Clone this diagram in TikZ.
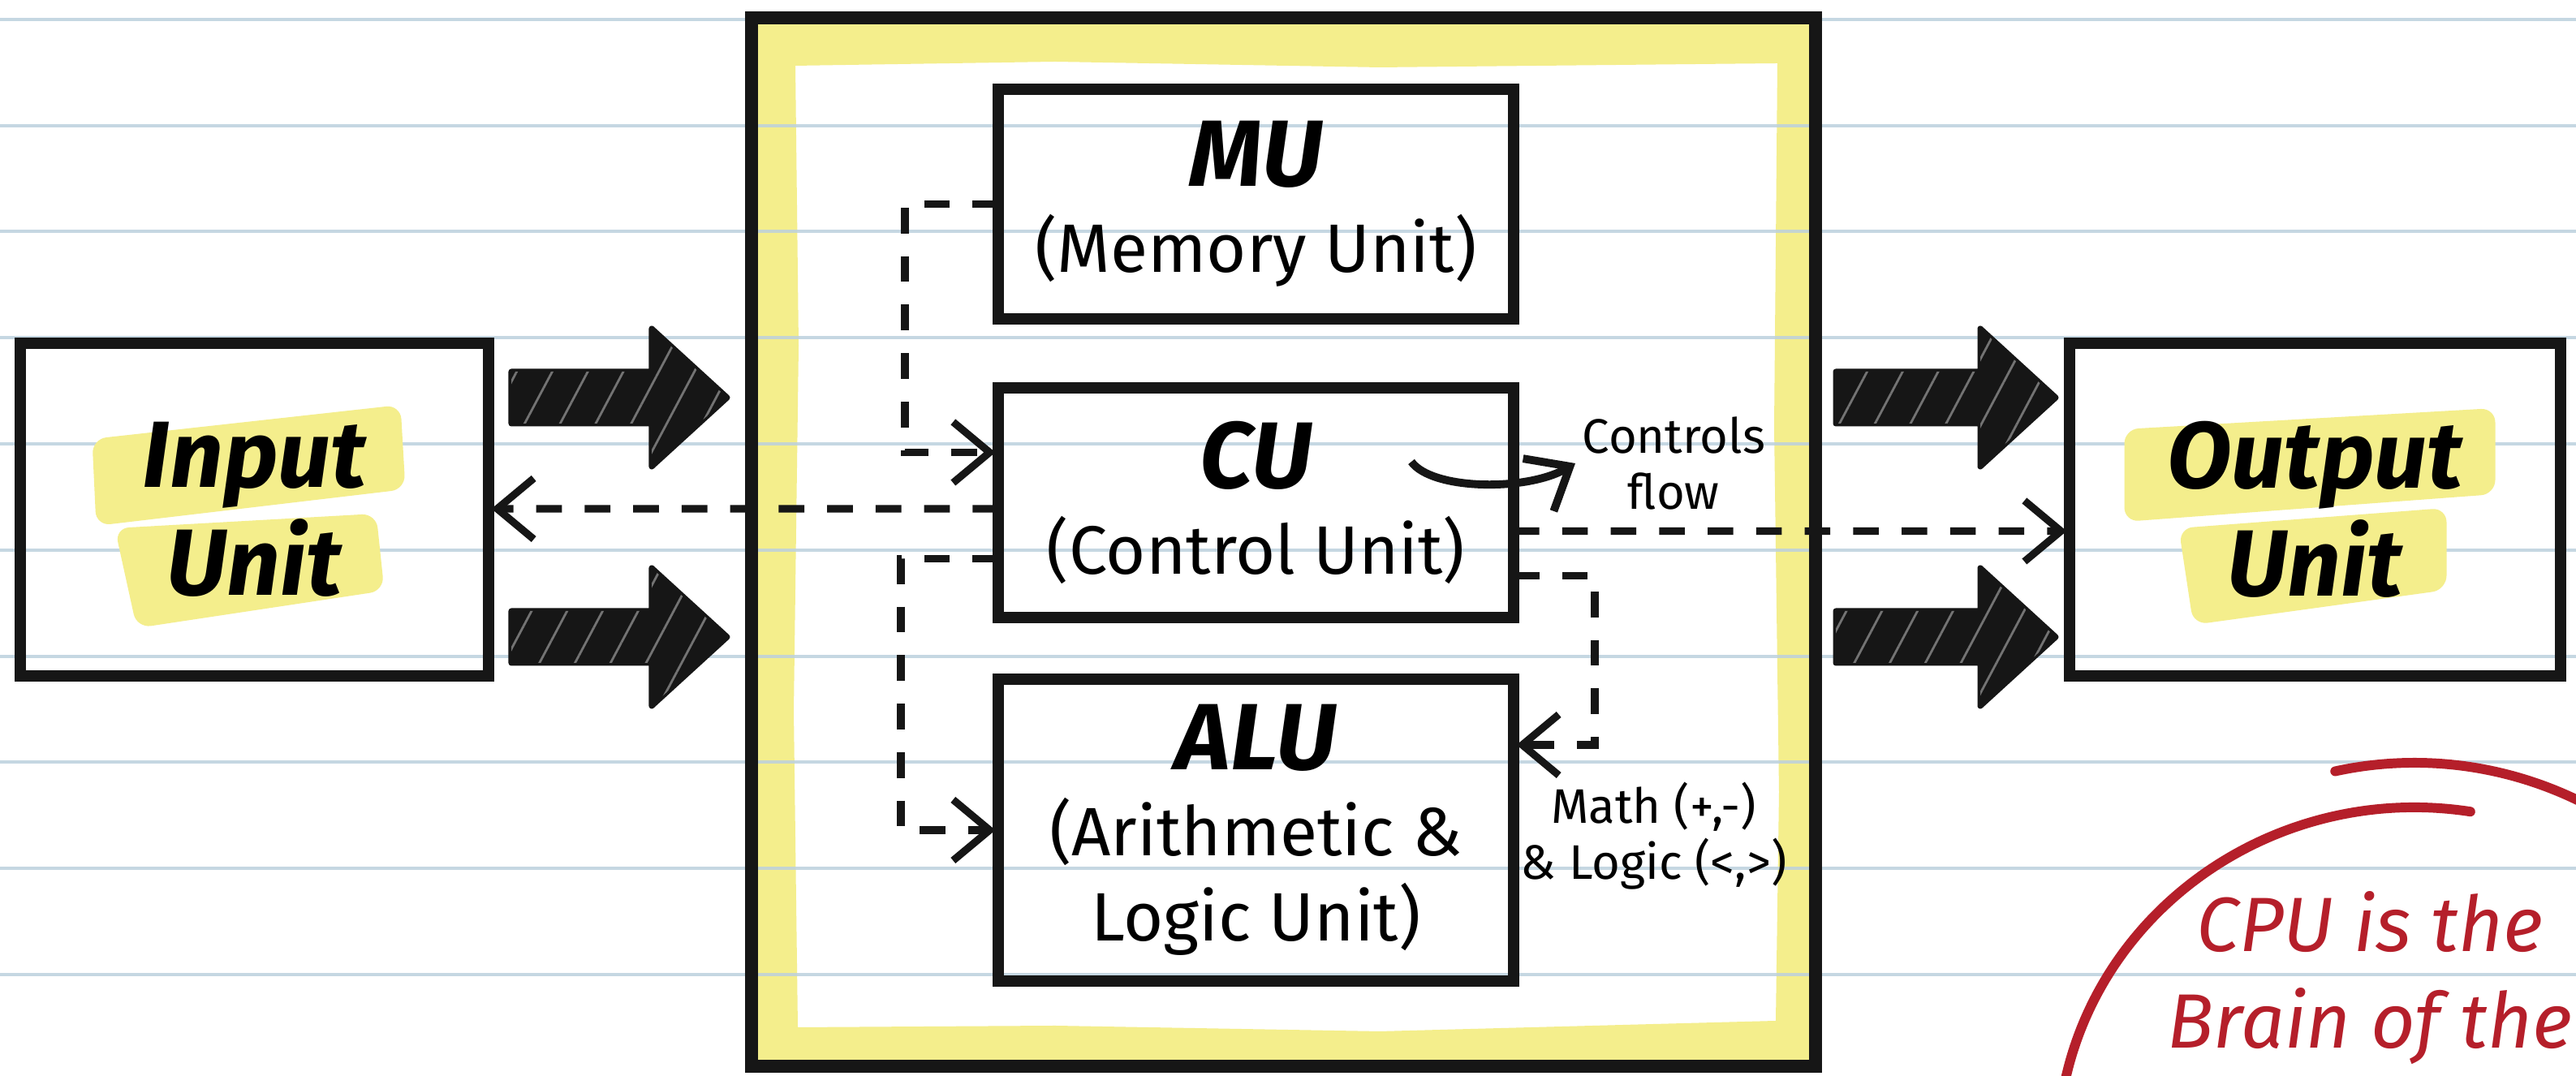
\documentclass[tikz,border=0pt]{standalone}
\usepackage{fontspec}
\setmainfont{Fira Sans}
\usepackage{tikz}
\usetikzlibrary{arrows.meta,calc,positioning,backgrounds,patterns.meta}
\definecolor{ink}{HTML}{161616}
\definecolor{paperline}{HTML}{BCD0DE}
\definecolor{markyellow}{HTML}{F4EE8C}
\definecolor{redink}{HTML}{B51F2A}
\newcommand{\unittitle}{\fontsize{33}{30}\selectfont\bfseries\itshape}
\newcommand{\fatarrow}[2]{%
  \fill[fatbody] ($(#1)+(0,0.32)$) -- ($(#2)+(-0.93,0.32)$) -- ($(#2)+(-0.93,0.85)$) -- (#2)
    -- ($(#2)+(-0.93,-0.85)$) -- ($(#2)+(-0.93,-0.32)$) -- ($(#1)+(0,-0.32)$) -- cycle;}

\begin{document}
\begin{tikzpicture}[>={Straight Barb[length=4.5mm,width=7.5mm]},node distance=8.5mm,
  sidebox/.style={draw=ink,line width=4pt,outer sep=0pt,minimum height=4.1cm,align=center,font=\fontsize{33}{38}\selectfont\bfseries\itshape},
  unitbox/.style={draw=ink,line width=4pt,outer sep=0pt,minimum width=6.35cm,minimum height=2.83cm,align=center,font=\fontsize{24}{30}\selectfont},
  cpubox/.style={draw=ink,line width=4.5pt,outer sep=0pt,minimum width=13.11cm,minimum height=12.92cm},
  dashflow/.style={->,draw=ink,line width=2.6pt,dash pattern=on 9pt off 8pt,shorten >=1pt},
  note/.style={inner sep=0pt,align=center,font=\fontsize{17}{19.5}\selectfont},
  hilite/.style={fill=markyellow,rounded corners=5pt},
  paper/.style={draw=paperline,line width=1.1pt,draw opacity=0.85},
  fatbody/.style={fill=ink,draw=ink,line width=2pt,line join=round,
    postaction={pattern={Lines[angle=62,distance=11pt,line width=0.8pt]},pattern color=black!55}},
  redring/.style={draw=redink,line width=3.4pt,line cap=round},
  redtext/.style={text=redink,align=center,inner sep=0pt,font=\fontsize{27}{34}\selectfont\itshape}]

  \useasboundingbox (0,0) rectangle (31.74,13.26);
  \clip (0,0) rectangle (31.74,13.26);

  \node[cpubox] (cpu) at (15.815,6.58) {};
  \node[unitbox] (mu) at (15.475,10.745) {{\unittitle MU}\\(Memory Unit)};
  \node[unitbox,below=of mu] (cu) {{\unittitle CU}\\(Control Unit)};
  \node[unitbox,minimum height=3.72cm,below=7.6mm of cu] (alu) {{\unittitle ALU}\\(Arithmetic \&\\Logic Unit)};
  \node[sidebox,minimum width=5.77cm] (inp) at (3.135,6.98) {Input\\Unit};
  \node[sidebox,minimum width=6.05cm] (outp) at (28.525,6.98) {Output\\Unit};

  \coordinate (inA) at ([shift={(0.28,1.38)}]inp.east);
  \coordinate (inB) at ([shift={(0.28,-1.57)}]inp.east);
  \coordinate (cpuA) at ($(cpu.west |- inA)+(-0.30,0)$);
  \coordinate (cpuB) at ($(cpu.west |- inB)+(-0.30,0)$);
  \coordinate (outA) at ($(cpu.east |- inA)+(0.25,0)$);
  \coordinate (outB) at ($(cpu.east |- inB)+(0.25,0)$);
  \coordinate (endA) at ($(outp.west |- inA)+(-0.17,0)$);
  \coordinate (endB) at ($(outp.west |- inB)+(-0.17,0)$);
  \fatarrow{inA}{cpuA}
  \fatarrow{inB}{cpuB}
  \fatarrow{outA}{endA}
  \fatarrow{outB}{endB}

  \draw[dashflow] (mu.west) -- ++(-1.15,0) |- ([yshift=6.2mm]cu.west);
  \draw[dashflow] ([yshift=-0.75mm]cu.west) -- ($(cu.west -| inp.east)+(0,-0.075)$);
  \draw[dashflow] ([yshift=-6.9mm]cu.west) -- ++(-1.2,0) |- (alu.west);
  \draw[dashflow] ([yshift=-3.5mm]cu.east) -- ($(cu.east -| outp.west)+(0,-0.35)$);
  \draw[dashflow] ([yshift=-9mm]cu.east) -- ++(1.0,0) |- ([yshift=10.5mm]alu.east);

  \coordinate (flowstart) at ([shift={(1.915,0.505)}]cu.center);
  \coordinate (flowtip) at ([shift={(3.935,0.485)}]cu.center);
  \draw[->,draw=ink,line width=2.8pt] (flowstart) .. controls +(0.25,-0.35) and +(-0.6,-0.35) .. (flowtip);
  \node[note,right=0.8mm of flowtip] (ctrl) {Controls\\flow};
  \node[note,right=0.8mm of alu.east,yshift=-0.7mm] (ops) {Math (+,-)\\\& Logic (<,>)};

  \node[redtext] (brain) at (29.20,1.21) {CPU is the\\Brain of the};
  \coordinate (ring) at ($(brain.center)+(0.55,-2.15)$);
  \draw[redring] ($(ring)+(81:4.4cm and 4.25cm)$) arc[start angle=81,end angle=215,x radius=4.4cm,y radius=4.25cm];
  \draw[redring] ($(ring)+(102:4.7cm and 4.8cm)$) arc[start angle=102,end angle=10,x radius=4.7cm,y radius=4.8cm];

  \begin{scope}[on background layer]
    \fill[white] (0,0) rectangle (31.74,13.26);
    \fill[markyellow,even odd rule] (cpu.south west) rectangle (cpu.north east)
      (9.83,0.60) -- (9.78,4.5) -- (9.84,9.0) -- (9.80,12.45) -- (13.0,12.50) -- (17.0,12.43)
      -- (21.90,12.48) -- (21.86,8.0) -- (21.92,3.5) -- (21.88,0.68) -- (17.0,0.55) -- (13.0,0.62) -- cycle;
    \foreach \k in {0,...,9}
      \draw[paper] (0,{1.25+1.308*\k}) -- (31.74,{1.25+1.308*\k});
    \begin{scope}[shift={(inp.center)}]
      \fill[hilite] (-2.0,0.87) -- (1.80,1.29) -- (1.86,0.25) -- (-1.95,-0.20) -- cycle;
      \fill[hilite] (-1.72,-0.23) -- (1.50,-0.05) -- (1.60,-1.0) -- (-1.45,-1.46) -- cycle;
    \end{scope}
    \begin{scope}[shift={(outp.center)}]
      \fill[hilite] (-2.35,0.99) -- (2.22,1.25) -- (2.22,0.19) -- (-2.35,-0.15) -- cycle;
      \fill[hilite] (-1.68,-0.23) -- (1.62,0.02) -- (1.62,-0.99) -- (-1.50,-1.42) -- cycle;
    \end{scope}
  \end{scope}
\end{tikzpicture}
\end{document}
